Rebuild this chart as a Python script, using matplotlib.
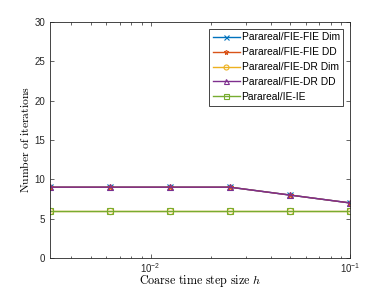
import numpy as np
import matplotlib
matplotlib.use('Agg')
from matplotlib import pyplot as plt

h = [0.003125, 0.00625, 0.0125, 0.025, 0.05, 0.1]
fie_fie_dim = [9, 9, 9, 9, 8, 7]
fie_fie_dd = [9, 9, 9, 9, 8, 7]
fie_dr_dim = [6, 6, 6, 6, 6, 6]
fie_dr_dd = [9, 9, 9, 9, 8, 7]
ie_ie = [6, 6, 6, 6, 6, 6]

series = [
    (fie_fie_dim, 'Parareal/FIE-FIE Dim', '#0072BD', 'x'),
    (fie_fie_dd, 'Parareal/FIE-FIE DD', '#D95319', '*'),
    (fie_dr_dim, 'Parareal/FIE-DR Dim', '#EDB120', 'o'),
    (fie_dr_dd, 'Parareal/FIE-DR DD', '#7E2F8E', '^'),
    (ie_ie, 'Parareal/IE-IE', '#77AC30', 's'),
]

plt.rcParams['font.family'] = 'Liberation Sans'
plt.rcParams['mathtext.fontset'] = 'cm'

fig = plt.figure(figsize=(3.86, 2.90), dpi=100)
ax = fig.add_axes([50/386, 32/290, 300/386, 236/290])

for data, label, color, marker in series:
    ax.plot(h, data, color=color, marker=marker, markersize=4.5,
            markerfacecolor='none', linewidth=1.0, markeredgewidth=0.8, label=label)

ax.set_xscale('log')
ax.set_xlim(h[0], h[-1])
ax.set_ylim(0, 30)
ax.set_yticks([0, 5, 10, 15, 20, 25, 30])
ax.set_xticks([0.01, 0.1])
ax.tick_params(which='both', direction='in', top=True, right=True,
               labelsize=7, colors='#262626', length=3, width=0.5)
ax.tick_params(axis='x', which='major', pad=2)
ax.tick_params(which='minor', length=1.8)
for s in ax.spines.values():
    s.set_linewidth(0.6)
    s.set_color('#262626')

ax.set_xlabel(r'$\mathrm{Coarse\ time\ step\ size}\ h$', fontsize=8.7, labelpad=-1)
ax.set_ylabel(r'$\mathrm{Number\ of\ iterations}$', fontsize=8.4, labelpad=2)

leg = ax.legend(loc='upper right', fontsize=7.4, fancybox=False, framealpha=1,
                edgecolor='#262626', borderaxespad=0.65, handlelength=2.6,
                labelspacing=0.48, borderpad=0.35, handletextpad=0.2,
                markerscale=0.8)
leg.get_frame().set_linewidth(0.6)

fig.savefig('out.png', dpi=100)
